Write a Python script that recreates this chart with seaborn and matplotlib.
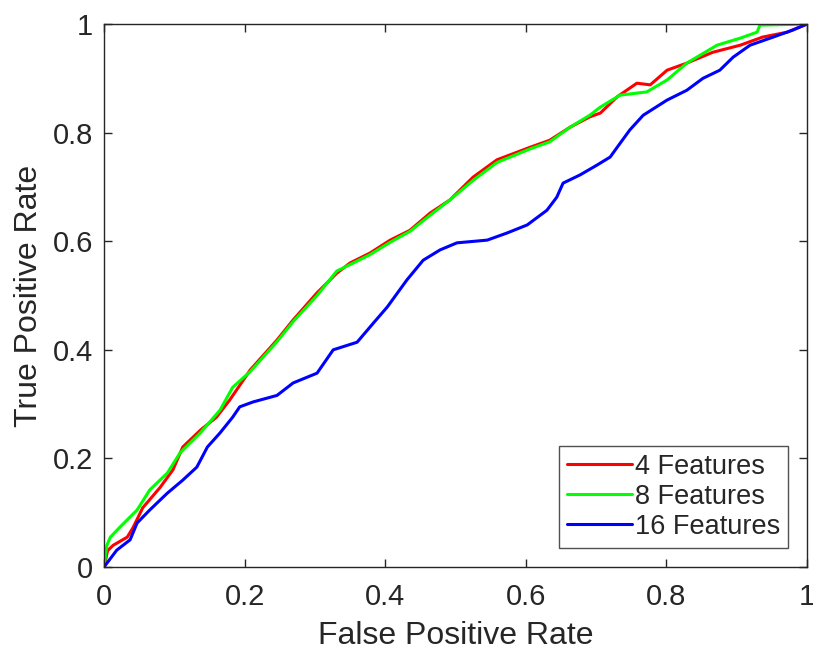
import numpy as np
import pandas as pd
import matplotlib
matplotlib.use("Agg")
import matplotlib.pyplot as plt
import seaborn as sns

# ROC points
fpr_4 = [0, .005, .013, .033, .041, .055, .08, .098, .112, .137, .16, .179, .198, .208, .246, .269,
         .303, .331, .35, .378, .407, .435, .464, .492, .525, .559, .606, .634, .663, .691, .706,
         .73, .758, .777, .801, .829, .866, .905, .937, .972, 1]
tpr_4 = [0, .03, .04, .055, .072, .109, .147, .179, .221, .252, .276, .308, .344, .363, .418, .455,
         .505, .541, .56, .578, .602, .62, .652, .676, .718, .75, .773, .786, .81, .829, .836,
         .866, .891, .888, .915, .928, .948, .961, .976, .985, 1]

fpr_8 = [0, .004, .009, .023, .047, .065, .09, .108, .137, .165, .183, .208, .246, .269, .303, .331,
         .35, .378, .407, .435, .464, .492, .525, .559, .606, .634, .663, .691, .706, .734, .772,
         .801, .829, .872, .905, .929, .933, 1]
tpr_8 = [0, .04, .055, .074, .105, .142, .173, .21, .247, .289, .331, .36, .415, .452, .50, .545,
         .557, .575, .598, .618, .648, .676, .712, .745, .77, .783, .81, .832, .847, .869, .875,
         .897, .928, .961, .974, .985, .998, 1]

fpr_16 = [0, .018, .037, .047, .065, .09, .112, .132, .147, .165, .183, .193, .212, .246, .269, .303,
          .326, .36, .383, .403, .431, .454, .478, .502, .545, .573, .602, .63, .644, .653, .677,
          .701, .72, .73, .748, .767, .801, .829, .852, .876, .895, .919, .952, .98, 1]
tpr_16 = [0, .031, .05, .081, .105, .136, .16, .184, .221, .247, .276, .295, .304, .316, .339, .357,
          .40, .414, .449, .479, .529, .565, .584, .597, .602, .615, .63, .657, .681, .707, .722,
          .74, .755, .773, .805, .832, .86, .878, .9, .915, .939, .961, .976, .989, 1]

series = ["4 Features", "8 Features", "16 Features"]
colors = ["#ff0000", "#00ff00", "#0000ff"]
ticks = [0, 0.2, 0.4, 0.6, 0.8, 1]
tick_labels = ["0", "0.2", "0.4", "0.6", "0.8", "1"]

df = pd.concat([
    pd.DataFrame({"fpr": fpr_4, "tpr": tpr_4, "model": series[0]}),
    pd.DataFrame({"fpr": fpr_8, "tpr": tpr_8, "model": series[1]}),
    pd.DataFrame({"fpr": fpr_16, "tpr": tpr_16, "model": series[2]}),
], ignore_index=True)

sns.set_theme(style="ticks")
plt.rcParams['font.family'] = ['Liberation Sans', 'DejaVu Sans']
dark = "#262626"

fig = plt.figure(figsize=(8.13, 6.53), dpi=100)
ax = fig.add_axes([0.128, 0.1317, 0.8646, 0.8315])
sns.lineplot(data=df, x="fpr", y="tpr", hue="model", palette=colors,
             estimator=None, sort=False, linewidth=2.2, ax=ax)

ax.set_xlim(0, 1)
ax.set_ylim(0, 1)
ax.set_xticks(ticks)
ax.set_xticklabels(tick_labels)
ax.set_yticks(ticks)
ax.set_yticklabels(tick_labels)
ax.tick_params(direction="in", length=6, width=1, colors=dark, labelsize=21,
               top=True, right=True)
ax.tick_params(axis="x", pad=11.5)
ax.tick_params(axis="y", pad=8)
for s in ax.spines.values():
    s.set_visible(True)
    s.set_color(dark)
    s.set_linewidth(1)

ax.set_xlabel("False Positive Rate", fontsize=23, color=dark, labelpad=7)
ax.set_ylabel("True Positive Rate", fontsize=23, color=dark, labelpad=6)

leg = ax.legend(loc="lower right", fontsize=19.5, frameon=True, fancybox=False,
                edgecolor=dark, handlelength=2.4, handletextpad=0.1,
                borderpad=0.3, labelspacing=0.15, borderaxespad=0.7)
leg.get_frame().set_linewidth(1)

fig.savefig("out.png", dpi=100)
